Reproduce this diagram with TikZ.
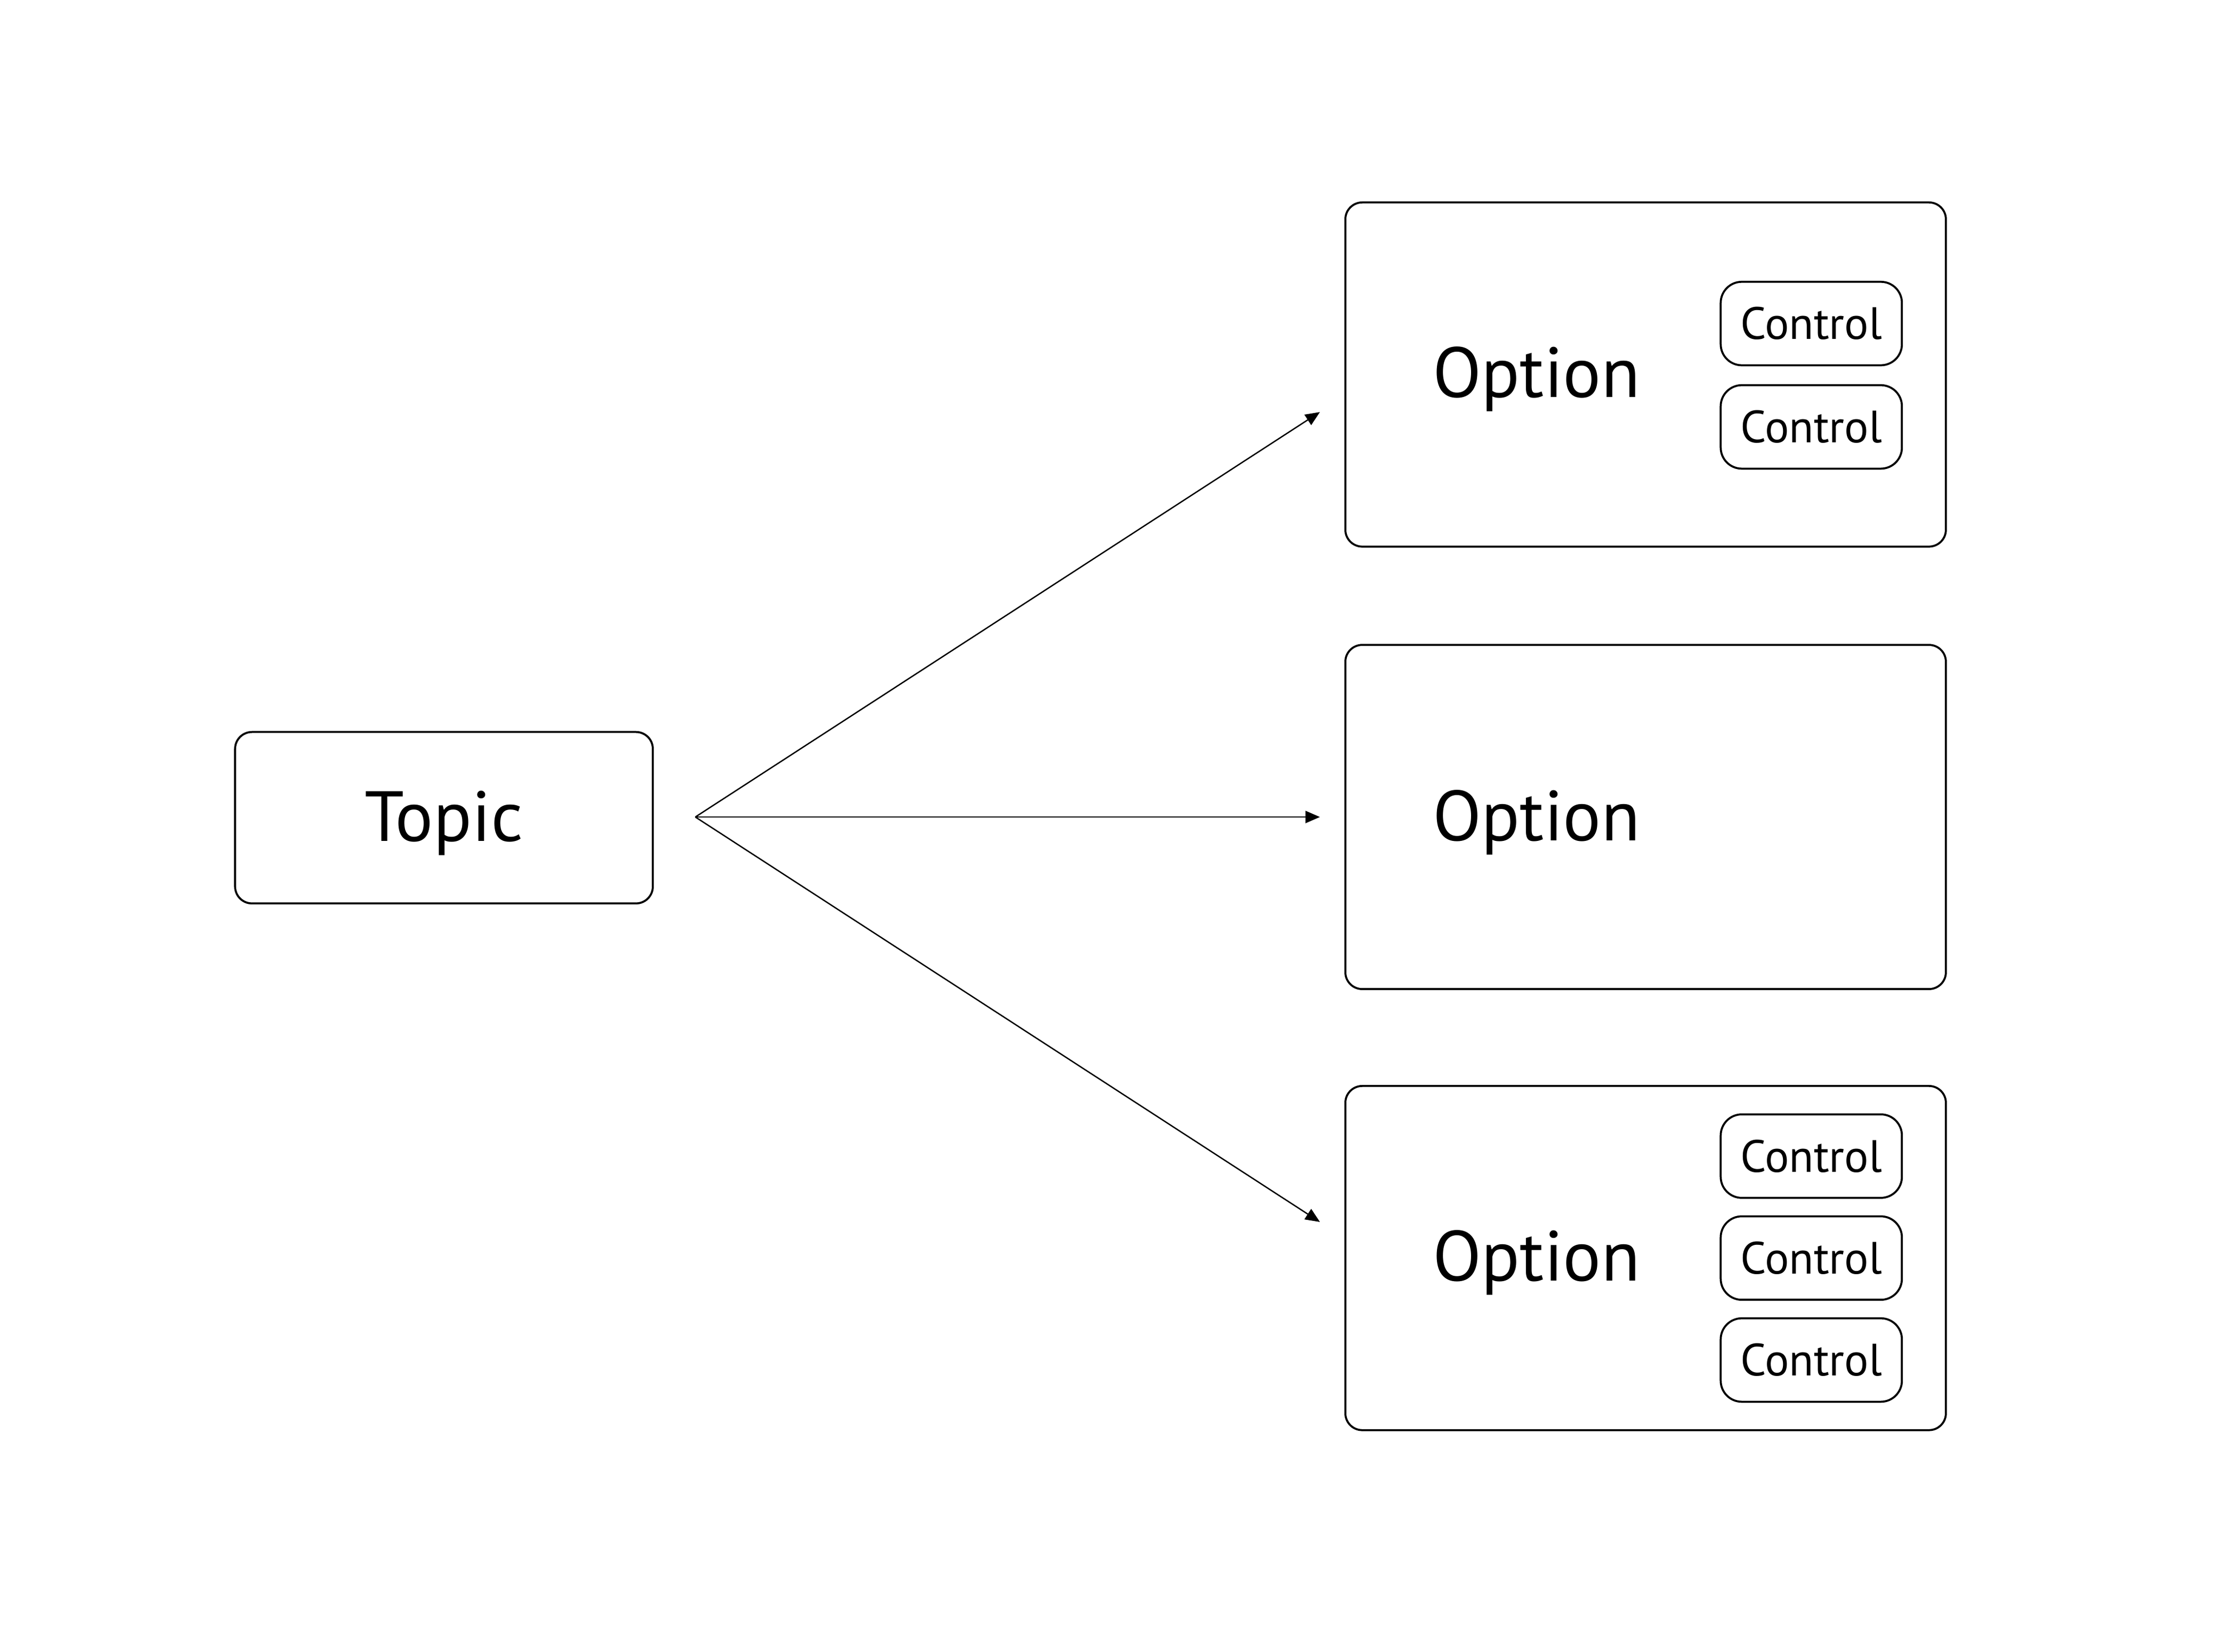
\documentclass[tikz,border=0pt]{standalone}
\usepackage{fontspec}
\setmainfont{PT Sans}
\usetikzlibrary{arrows.meta}
\begin{document}
\begin{tikzpicture}[x=0.63768pt,y=-0.63768pt,
  box/.style={draw,line width=0.9pt,rounded corners=7.6pt,inner sep=0pt},
  topicbox/.style={box,minimum width=188.1pt,minimum height=77.2pt,text depth=1.7pt,font=\fontsize{32}{36}\selectfont},
  optbox/.style={box,minimum width=270.4pt,minimum height=155pt},
  optlabel/.style={inner sep=0pt,text depth=1.7pt,font=\fontsize{32}{36}\selectfont},
  ctrlbox/.style={draw,line width=0.9pt,rounded corners=9.5pt,inner sep=0pt,minimum width=81.6pt,minimum height=37.6pt,font=\fontsize{20.4}{24}\selectfont},
  conn/.style={line width=0.6pt,-{Triangle[length=6.5pt,width=5.5pt]}}]
\useasboundingbox (0,0) rectangle (1568.3,1166.4);
\node[topicbox] (topic) at (313.5,577.5) {Topic};
\node[optbox] (opt1) at (1162,264.5) {};
\node[optbox] (opt2) at (1162,577) {};
\node[optbox] (opt3) at (1162,888.5) {};
\node[optlabel] (lab1) at (1085,264) {Option};
\node[optlabel] (lab2) at (1085,577) {Option};
\node[optlabel] (lab3) at (1085,888) {Option};
\node[ctrlbox] (c11) at (1279,228.5) {Control};
\node[ctrlbox] (c12) at (1279,301.5) {Control};
\node[ctrlbox] (c31) at (1279,816.5) {Control};
\node[ctrlbox] (c32) at (1279,888.5) {Control};
\node[ctrlbox] (c33) at (1279,960.5) {Control};
\coordinate (hub) at (491,577);
\coordinate (e1) at (932,291);
\coordinate (e2) at (932,577);
\coordinate (e3) at (932,863);
\draw[conn] (hub) -- (e1);
\draw[conn] (hub) -- (e2);
\draw[conn] (hub) -- (e3);
\end{tikzpicture}
\end{document}
